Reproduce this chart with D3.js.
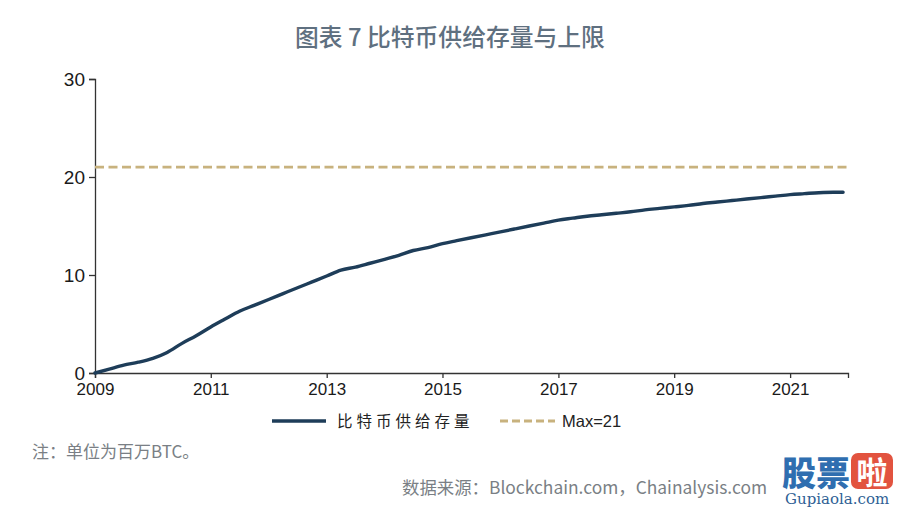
<!DOCTYPE html>
<html><head><meta charset="utf-8">
<script src="https://cdn.jsdelivr.net/npm/d3@7"></script>
<style>body{margin:0;background:#fff}svg{display:block}</style>
</head><body><svg id="c" width="900" height="509"></svg>
<script>
const title = "图表 7 比特币供给存量与上限";
const seriesName = "比特币供给存量";
const maxName = "Max=21";
const maxValue = 21;
const xTickYears = [2009, 2011, 2013, 2015, 2017, 2019, 2021];
const yTicks = [0, 10, 20, 30];
const dates = ["2009-01","2009-04","2009-07","2009-10","2010-01","2010-04","2010-07","2010-10",
"2011-01","2011-04","2011-07","2011-10","2012-01","2012-04","2012-07","2012-10",
"2013-01","2013-04","2013-07","2013-10","2014-01","2014-04","2014-07","2014-10",
"2015-01","2015-04","2015-07","2015-10","2016-01","2016-04","2016-07","2016-10",
"2017-01","2017-04","2017-07","2017-10","2018-01","2018-04","2018-07","2018-10",
"2019-01","2019-04","2019-07","2019-10","2020-01","2020-04","2020-07","2020-10",
"2021-01","2021-04","2021-07","2021-10","2021-12"];
const supply = [0,0.4,0.8,1.1,1.5,2.1,3.0,3.8,
4.7,5.5,6.3,6.9,7.5,8.1,8.7,9.3,
9.9,10.5,10.8,11.2,11.6,12.0,12.5,12.8,
13.2,13.5,13.8,14.1,14.4,14.7,15.0,15.3,
15.6,15.8,16.0,16.15,16.3,16.45,16.65,16.8,
16.95,17.1,17.3,17.45,17.6,17.75,17.9,18.05,
18.2,18.3,18.4,18.45,18.45];
const note = "注：单位为百万BTC。";
const source = "数据来源：Blockchain.com，Chainalysis.com";

const svg = d3.select("#c");
const parse = d3.timeParse("%Y-%m");
const data = dates.map((d,i)=>({d:parse(d), v:supply[i]}));
const x = d3.scaleTime().domain([new Date(2009,0,1), new Date(2022,0,1)]).range([95, 848]);
const y = d3.scaleLinear().domain([0,30]).range([373, 79]);

svg.append("text").attr("x",450).attr("y",46).attr("text-anchor","middle")
  .attr("font-family","Noto Sans CJK SC").attr("font-size",23.8).attr("font-weight",500)
  .attr("fill","#5f7080").text(title);

const fontAx = "Liberation Sans, Arial, sans-serif";
const yAxis = svg.append("g").attr("transform","translate(95,0)")
  .call(d3.axisLeft(y).tickValues(yTicks).tickSize(6).tickPadding(4));
const xAxis = svg.append("g").attr("transform","translate(0,373)")
  .call(d3.axisBottom(x).tickValues(xTickYears.map(yr=>new Date(yr,0,1))).tickFormat(d3.timeFormat("%Y")).tickSize(5).tickPadding(5));
[yAxis,xAxis].forEach(g=>{
  g.select(".domain").attr("stroke","#333").attr("stroke-width",1.3);
  g.selectAll(".tick line").attr("stroke","#333").attr("stroke-width",1.3);
  g.selectAll("text").attr("font-family",fontAx).attr("fill","#1a1a1a");
});
yAxis.selectAll("text").attr("font-size",19);
xAxis.selectAll("text").attr("font-size",17);

svg.append("line").attr("x1",x.range()[0]).attr("x2",x.range()[1])
  .attr("y1",y(maxValue)).attr("y2",y(maxValue))
  .attr("stroke","#c8b27e").attr("stroke-width",2.8).attr("stroke-dasharray","9,4.5");

svg.append("path").datum(data)
  .attr("d", d3.line().x(d=>x(d.d)).y(d=>y(d.v)).curve(d3.curveMonotoneX))
  .attr("fill","none").attr("stroke","#1e3d59").attr("stroke-width",3.4).attr("stroke-linecap","round");

// legend
const lg = svg.append("g");
lg.append("line").attr("x1",272).attr("x2",326).attr("y1",421).attr("y2",421)
  .attr("stroke","#1e3d59").attr("stroke-width",3.4);
lg.append("text").attr("x",337).attr("y",427).attr("font-family","Noto Sans CJK SC")
  .attr("font-size",15.5).attr("letter-spacing",4).attr("fill","#222").text(seriesName);
lg.append("line").attr("x1",500).attr("x2",555).attr("y1",421).attr("y2",421)
  .attr("stroke","#c8b27e").attr("stroke-width",2.8).attr("stroke-dasharray","8,4");
lg.append("text").attr("x",562).attr("y",427).attr("font-family",fontAx)
  .attr("font-size",16.5).attr("fill","#222").text(maxName);

svg.append("text").attr("x",32).attr("y",458).attr("font-family","Noto Sans CJK SC")
  .attr("font-size",17).attr("fill","#7a7f85").text(note);
svg.append("text").attr("x",402).attr("y",494).attr("font-family","Noto Sans CJK SC")
  .attr("font-size",17.4).attr("fill","#7a7f85").text(source);

// watermark
const wm = svg.append("g");
wm.append("text").attr("x",782).attr("y",486).attr("font-family","Noto Sans CJK SC")
  .attr("font-size",34).attr("font-weight",900).attr("fill","#2f6eb0").text("股票");
wm.append("rect").attr("x",851).attr("y",453).attr("width",42).attr("height",36).attr("rx",7).attr("fill","#e2533f");
wm.append("text").attr("x",872).attr("y",484).attr("text-anchor","middle").attr("font-family","Noto Sans CJK SC")
  .attr("font-size",31).attr("font-weight",700).attr("fill","#fff").text("啦");
wm.append("text").attr("x",785).attr("y",504).attr("font-family","DejaVu Serif, serif")
  .attr("font-size",15).attr("fill","#2f5f95").text("Gupiaola.com");
</script></body></html>
